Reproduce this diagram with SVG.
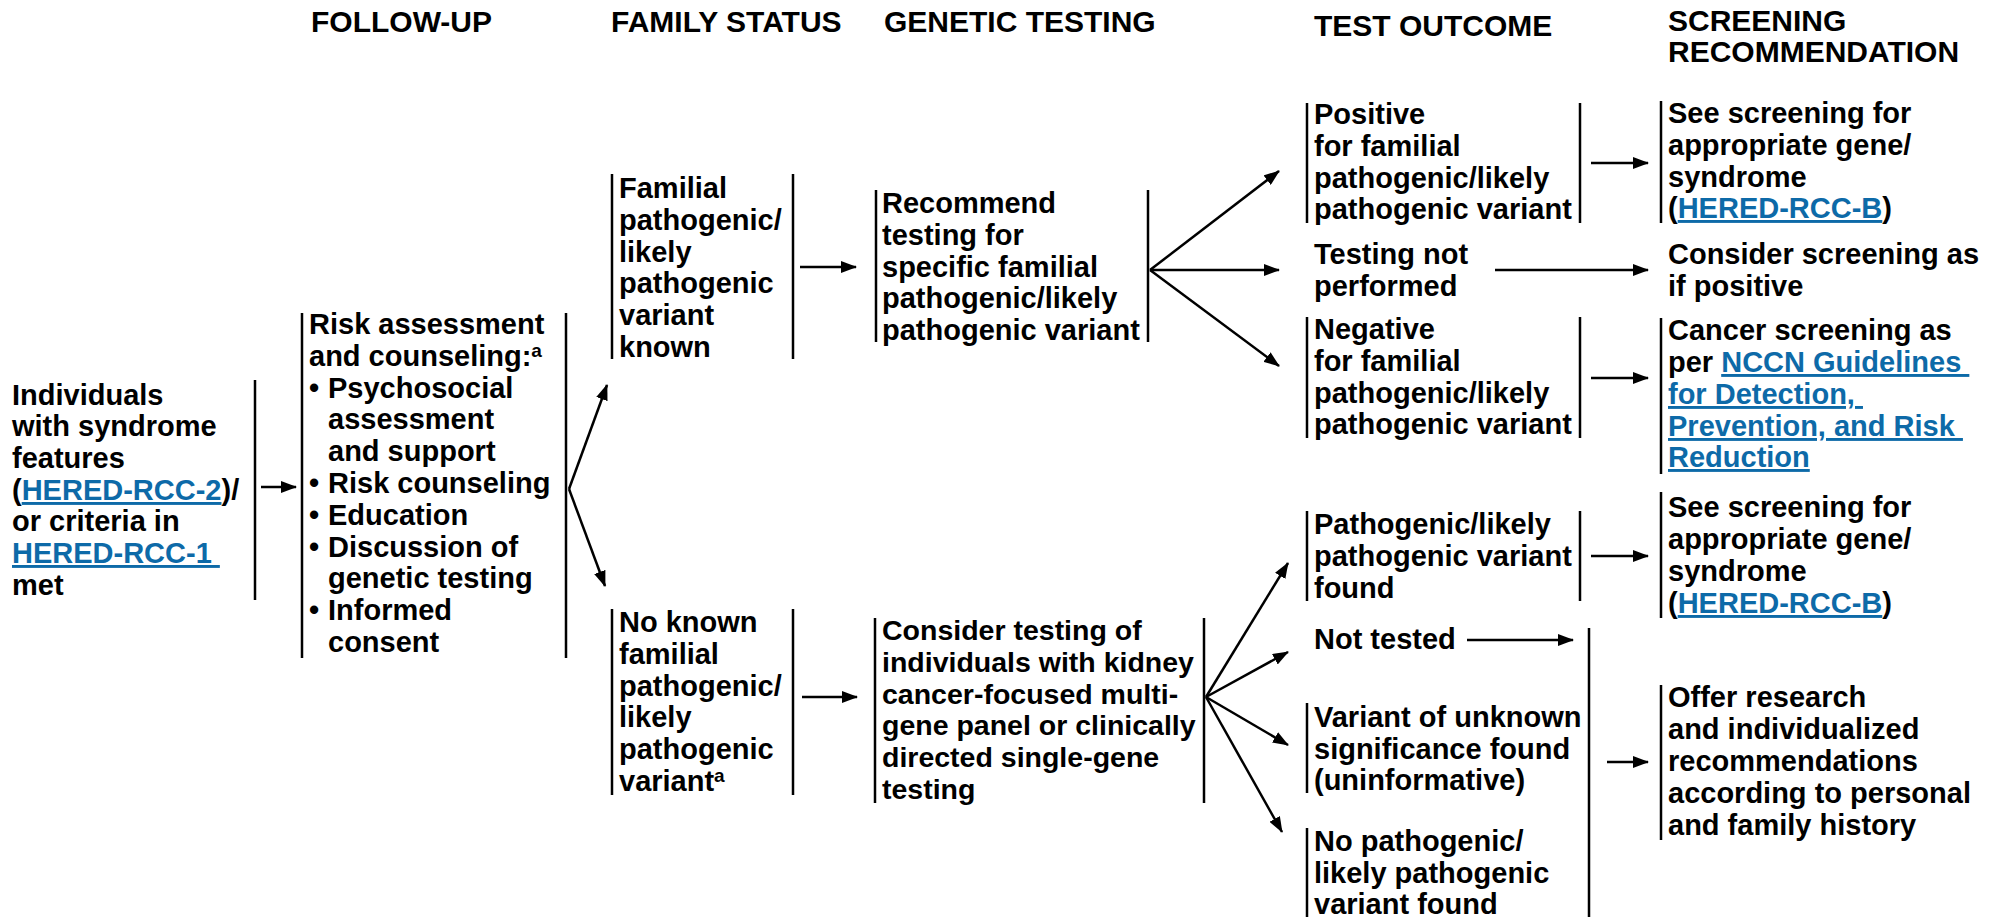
<svg xmlns="http://www.w3.org/2000/svg" width="1997" height="917" viewBox="0 0 1997 917">
<style>
text{font-family:"Liberation Sans",Arial,Helvetica,sans-serif;font-weight:bold;font-size:29px;fill:#000}
.h{font-size:30px}
.lnk{fill:#0d6aa8;text-decoration:underline}
.sup{font-size:19px}
.bar{stroke:#000;stroke-width:2.5;fill:none}
.con{stroke:#000;stroke-width:2.5;fill:none;marker-end:url(#ah)}
</style>
<defs>
<marker id="ah" markerUnits="userSpaceOnUse" markerWidth="16" markerHeight="12" refX="15" refY="6" orient="auto">
<path d="M0,0 L16,6 L0,12 z" fill="#000"/>
</marker>
</defs>
<rect width="1997" height="917" fill="#fff"/>
<g id="headers">
<text class="h" x="311" y="32">FOLLOW-UP</text>
<text class="h" x="611" y="32">FAMILY STATUS</text>
<text class="h" x="884" y="32">GENETIC TESTING</text>
<text class="h" x="1314" y="36">TEST OUTCOME</text>
<text class="h" x="1668" y="31">SCREENING</text>
<text class="h" x="1668" y="62">RECOMMENDATION</text>
</g>
<g id="connectors">
<line class="con" x1="261" y1="487" x2="296" y2="487"/>
<line class="con" x1="569" y1="489" x2="607" y2="385"/>
<line class="con" x1="569" y1="489" x2="605" y2="586"/>
<line class="con" x1="800" y1="267" x2="856" y2="267"/>
<line class="con" x1="1150" y1="270" x2="1279" y2="171"/>
<line class="con" x1="1150" y1="270" x2="1279" y2="270"/>
<line class="con" x1="1150" y1="270" x2="1279" y2="366"/>
<line class="con" x1="1591" y1="163" x2="1648" y2="163"/>
<line class="con" x1="1495" y1="270" x2="1648" y2="270"/>
<line class="con" x1="1591" y1="378" x2="1648" y2="378"/>
<line class="con" x1="802" y1="697" x2="857" y2="697"/>
<line class="con" x1="1206" y1="697" x2="1288" y2="563"/>
<line class="con" x1="1206" y1="697" x2="1288" y2="652"/>
<line class="con" x1="1206" y1="697" x2="1288" y2="745"/>
<line class="con" x1="1206" y1="697" x2="1282" y2="832"/>
<line class="con" x1="1591" y1="556" x2="1648" y2="556"/>
<line class="con" x1="1467" y1="640" x2="1573" y2="640"/>
<line class="con" x1="1607" y1="762" x2="1648" y2="762"/>
</g>
<g id="n-individuals">
<line class="bar" x1="255" y1="380" x2="255" y2="600"/>
<text xml:space="preserve"><tspan x="12" y="405">Individuals</tspan><tspan x="12" y="436">with syndrome</tspan><tspan x="12" y="468">features</tspan><tspan x="12" y="500">(</tspan><tspan class="lnk">HERED-RCC-2</tspan><tspan>)/</tspan><tspan x="12" y="531">or criteria in</tspan><tspan x="12" y="563" class="lnk">HERED-RCC-1 </tspan><tspan x="12" y="595">met</tspan></text>
</g>
<g id="n-risk">
<line class="bar" x1="302" y1="313" x2="302" y2="658"/>
<line class="bar" x1="566" y1="313" x2="566" y2="658"/>
<text><tspan x="309" y="334">Risk assessment</tspan><tspan x="309" y="366">and counseling:</tspan><tspan class="sup" dy="-9">a</tspan><tspan x="309" y="398">•</tspan><tspan x="328" y="398">Psychosocial</tspan><tspan x="328" y="429">assessment</tspan><tspan x="328" y="461">and support</tspan><tspan x="309" y="493">•</tspan><tspan x="328" y="493">Risk counseling</tspan><tspan x="309" y="525">•</tspan><tspan x="328" y="525">Education</tspan><tspan x="309" y="557">•</tspan><tspan x="328" y="557">Discussion of</tspan><tspan x="328" y="588">genetic testing</tspan><tspan x="309" y="620">•</tspan><tspan x="328" y="620">Informed</tspan><tspan x="328" y="652">consent</tspan></text>
</g>
<g id="n-familial-known">
<line class="bar" x1="612" y1="174" x2="612" y2="359"/>
<line class="bar" x1="793" y1="174" x2="793" y2="359"/>
<text><tspan x="619" y="198">Familial</tspan><tspan x="619" y="230">pathogenic/</tspan><tspan x="619" y="262">likely</tspan><tspan x="619" y="293">pathogenic</tspan><tspan x="619" y="325">variant</tspan><tspan x="619" y="357">known</tspan></text>
</g>
<g id="n-recommend">
<line class="bar" x1="876" y1="190" x2="876" y2="342"/>
<line class="bar" x1="1148" y1="190" x2="1148" y2="342"/>
<text><tspan x="882" y="213">Recommend</tspan><tspan x="882" y="245">testing for</tspan><tspan x="882" y="277">specific familial</tspan><tspan x="882" y="308">pathogenic/likely</tspan><tspan x="882" y="340">pathogenic variant</tspan></text>
</g>
<g id="n-positive">
<line class="bar" x1="1307" y1="103" x2="1307" y2="223"/>
<line class="bar" x1="1580" y1="103" x2="1580" y2="223"/>
<text><tspan x="1314" y="124">Positive</tspan><tspan x="1314" y="156">for familial</tspan><tspan x="1314" y="188">pathogenic/likely</tspan><tspan x="1314" y="219">pathogenic variant</tspan></text>
</g>
<g id="n-see1">
<line class="bar" x1="1661" y1="101" x2="1661" y2="223"/>
<text><tspan x="1668" y="123">See screening for</tspan><tspan x="1668" y="155">appropriate gene/</tspan><tspan x="1668" y="187">syndrome</tspan><tspan x="1668" y="218">(</tspan><tspan class="lnk">HERED-RCC-B</tspan><tspan>)</tspan></text>
</g>
<g id="n-notperformed">
<text><tspan x="1314" y="264">Testing not</tspan><tspan x="1314" y="296">performed</tspan></text>
</g>
<g id="n-asifpositive">
<text><tspan x="1668" y="264">Consider screening as</tspan><tspan x="1668" y="296">if positive</tspan></text>
</g>
<g id="n-negative">
<line class="bar" x1="1307" y1="317" x2="1307" y2="438"/>
<line class="bar" x1="1580" y1="317" x2="1580" y2="438"/>
<text><tspan x="1314" y="339">Negative</tspan><tspan x="1314" y="371">for familial</tspan><tspan x="1314" y="403">pathogenic/likely</tspan><tspan x="1314" y="434">pathogenic variant</tspan></text>
</g>
<g id="n-cancer">
<line class="bar" x1="1661" y1="318" x2="1661" y2="474"/>
<text xml:space="preserve"><tspan x="1668" y="340">Cancer screening as</tspan><tspan x="1668" y="372">per </tspan><tspan class="lnk">NCCN Guidelines </tspan><tspan x="1668" y="404" class="lnk">for Detection, </tspan><tspan x="1668" y="436" class="lnk">Prevention, and Risk </tspan><tspan x="1668" y="467" class="lnk">Reduction</tspan></text>
</g>
<g id="n-noknown">
<line class="bar" x1="612" y1="609" x2="612" y2="795"/>
<line class="bar" x1="793" y1="609" x2="793" y2="795"/>
<text><tspan x="619" y="632">No known</tspan><tspan x="619" y="664">familial</tspan><tspan x="619" y="696">pathogenic/</tspan><tspan x="619" y="727">likely</tspan><tspan x="619" y="759">pathogenic</tspan><tspan x="619" y="791">variant</tspan><tspan class="sup" dy="-9">a</tspan></text>
</g>
<g id="n-consider-testing">
<line class="bar" x1="875" y1="618" x2="875" y2="803"/>
<line class="bar" x1="1204" y1="618" x2="1204" y2="803"/>
<text style="font-size:28.5px"><tspan x="882" y="640">Consider testing of</tspan><tspan x="882" y="672">individuals with kidney</tspan><tspan x="882" y="704">cancer-focused multi-</tspan><tspan x="882" y="735">gene panel or clinically</tspan><tspan x="882" y="767">directed single-gene</tspan><tspan x="882" y="799">testing</tspan></text>
</g>
<g id="n-found">
<line class="bar" x1="1307" y1="511" x2="1307" y2="601"/>
<line class="bar" x1="1580" y1="511" x2="1580" y2="601"/>
<text><tspan x="1314" y="534">Pathogenic/likely</tspan><tspan x="1314" y="566">pathogenic variant</tspan><tspan x="1314" y="598">found</tspan></text>
</g>
<g id="n-see2">
<line class="bar" x1="1661" y1="492" x2="1661" y2="618"/>
<text><tspan x="1668" y="517">See screening for</tspan><tspan x="1668" y="549">appropriate gene/</tspan><tspan x="1668" y="581">syndrome</tspan><tspan x="1668" y="613">(</tspan><tspan class="lnk">HERED-RCC-B</tspan><tspan>)</tspan></text>
</g>
<g id="n-nottested">
<text x="1314" y="649">Not tested</text>
</g>
<g id="n-group-bar">
<line class="bar" x1="1589" y1="628" x2="1589" y2="917"/>
</g>
<g id="n-vus">
<line class="bar" x1="1307" y1="703" x2="1307" y2="793"/>
<text><tspan x="1314" y="727">Variant of unknown</tspan><tspan x="1314" y="759">significance found</tspan><tspan x="1314" y="790">(uninformative)</tspan></text>
</g>
<g id="n-nopatho">
<line class="bar" x1="1307" y1="828" x2="1307" y2="917"/>
<text><tspan x="1314" y="851">No pathogenic/</tspan><tspan x="1314" y="883">likely pathogenic</tspan><tspan x="1314" y="914">variant found</tspan></text>
</g>
<g id="n-offer">
<line class="bar" x1="1661" y1="685" x2="1661" y2="840"/>
<text><tspan x="1668" y="707">Offer research</tspan><tspan x="1668" y="739">and individualized</tspan><tspan x="1668" y="771">recommendations</tspan><tspan x="1668" y="803">according to personal</tspan><tspan x="1668" y="835">and family history</tspan></text>
</g>
</svg>
